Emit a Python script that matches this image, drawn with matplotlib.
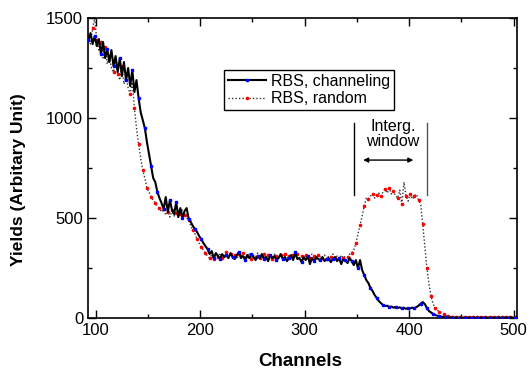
import numpy as np
import matplotlib
matplotlib.use('Agg')
import matplotlib.pyplot as plt
from matplotlib.ticker import MultipleLocator

plt.rcParams['font.family'] = ['Liberation Sans', 'DejaVu Sans']

# channel grid (every 2nd channel)
first_channel = 93
channel_step = 2

channeling = [
    1390, 1425, 1370, 1410, 1360, 1395, 1320, 1380, 1300, 1345,
    1280, 1340, 1260, 1310, 1230, 1300, 1210, 1280, 1190, 1250,
    1160, 1240, 1130, 1190, 1100, 1030, 990, 950, 880, 820,
    760, 700, 680, 630, 600, 575, 545, 605, 530, 590,
    540, 520, 580, 505, 550, 500, 535, 550, 495, 480,
    460, 445, 430, 410, 395, 375, 360, 345, 320, 335,
    300, 325, 310, 295, 320, 305, 315, 300, 325, 305,
    295, 315, 330, 300, 310, 290, 315, 300, 320, 305,
    290, 310, 300, 320, 295, 305, 285, 315, 300, 310,
    290, 300, 320, 295, 305, 285, 300, 315, 290, 330,
    295, 300, 280, 305, 290, 310, 270, 300, 285, 305,
    295, 290, 305, 285, 295, 300, 280, 295, 305, 285,
    300, 270, 295, 290, 275, 300, 285, 265, 290, 250,
    290, 240, 215, 190, 175, 150, 135, 115, 100, 85,
    75, 65, 60, 62, 55, 58, 52, 56, 50, 54,
    48, 52, 46, 50, 48, 52, 50, 55, 62, 72,
    80, 70, 50, 35, 28, 20, 15, 12, 9, 7,
    5, 4, 3, 3, 2, 3, 2, 2, 3, 2,
    2, 3, 2, 2, 3, 2, 2, 3, 2, 2,
    3, 2, 2, 3, 2, 2, 3, 2, 2, 3,
    2, 2, 3, 2, 2, 3,
]

random_ = [
    1410, 1370, 1450, 1500, 1390, 1340, 1380, 1300, 1355, 1270,
    1310, 1250, 1230, 1295, 1220, 1190, 1260, 1170, 1215, 1150,
    1120, 1180, 1050, 950, 870, 800, 740, 700, 650, 630,
    605, 590, 575, 560, 550, 530, 545, 515, 530, 505,
    540, 510, 525, 545, 520, 540, 515, 500, 490, 460,
    440, 420, 395, 375, 355, 340, 325, 310, 300, 315,
    295, 320, 305, 325, 300, 315, 330, 305, 320, 300,
    315, 295, 320, 310, 325, 300, 310, 320, 295, 315,
    305, 325, 300, 310, 320, 300, 315, 305, 295, 320,
    310, 300, 315, 305, 320, 300, 310, 295, 315, 305,
    320, 300, 310, 295, 315, 305, 300, 320, 310, 295,
    315, 305, 300, 315, 295, 310, 305, 320, 300, 310,
    295, 315, 300, 310, 305, 320, 325, 340, 375, 420,
    465, 510, 560, 600, 595, 610, 620, 600, 615, 625,
    610, 630, 645, 625, 650, 620, 635, 610, 600, 640,
    570, 680, 610, 585, 620, 595, 610, 620, 590, 570,
    470, 360, 250, 170, 110, 70, 50, 40, 30, 25,
    18, 12, 9, 7, 5, 5, 4, 5, 4, 4,
    5, 4, 3, 4, 5, 3, 4, 4, 3, 4,
    3, 4, 3, 3, 4, 3, 3, 4, 3, 3,
    4, 3, 3, 4, 3, 3,
]

channels = first_channel + channel_step * np.arange(len(channeling))

window_left = 347
window_right = 417

fig = plt.figure(figsize=(5.28, 3.69), dpi=100)
ax = fig.add_axes([0.1667, 0.138, 0.812, 0.813])

ax.plot(channels, random_, color='#333333', lw=1, ls=(0, (1, 1.5)),
        marker='o', ms=1.6, mfc='red', mec='red', markevery=2,
        label='RBS, random', zorder=2)
ax.plot(channels, channeling, color='black', lw=1.5, ls='-',
        marker='s', ms=1.6, mfc='blue', mec='blue', markevery=3,
        label='RBS, channeling', zorder=3)

# integration window
ax.plot([window_left, window_left], [615, 975], color='black', lw=1)
ax.plot([window_right, window_right], [615, 975], color='#555555', lw=1)
ax.annotate('', xy=(356, 790), xytext=(404, 790),
            arrowprops=dict(arrowstyle='<|-|>', color='black', lw=1,
                            mutation_scale=7, shrinkA=0, shrinkB=0))
ax.text(384.5, 920, 'Interg.\nwindow', ha='center', va='center',
        fontsize=11.5, linespacing=1.0)

ax.set_xlim(92.6, 503)
ax.set_ylim(0, 1500)
ax.xaxis.set_major_locator(MultipleLocator(100))
ax.xaxis.set_minor_locator(MultipleLocator(50))
ax.yaxis.set_major_locator(MultipleLocator(500))
ax.yaxis.set_minor_locator(MultipleLocator(250))
ax.tick_params(which='both', direction='in', top=True, right=True,
               labelsize=12, width=1)
ax.tick_params(which='major', length=5.5)
ax.tick_params(which='minor', length=3)
for s in ax.spines.values():
    s.set_linewidth(1.2)

ax.set_xlabel('Channels', fontsize=13.5, fontweight='bold')
ax.set_ylabel('Yields (Arbitary Unit)', fontsize=12.5, fontweight='bold')
ax.xaxis.set_label_coords(0.494, -0.115)
ax.yaxis.set_label_coords(-0.145, 0.46)

h, l = ax.get_legend_handles_labels()
leg = ax.legend(h[::-1], l[::-1], loc='upper left',
                bbox_to_anchor=(0.317, 0.827), borderaxespad=0,
                fancybox=False, edgecolor='black', framealpha=1,
                fontsize=11.5, handlelength=2.4, numpoints=1,
                borderpad=0.25, labelspacing=0.15, handletextpad=0.3)
leg.get_frame().set_linewidth(1)

fig.savefig('out.png', dpi=100)
